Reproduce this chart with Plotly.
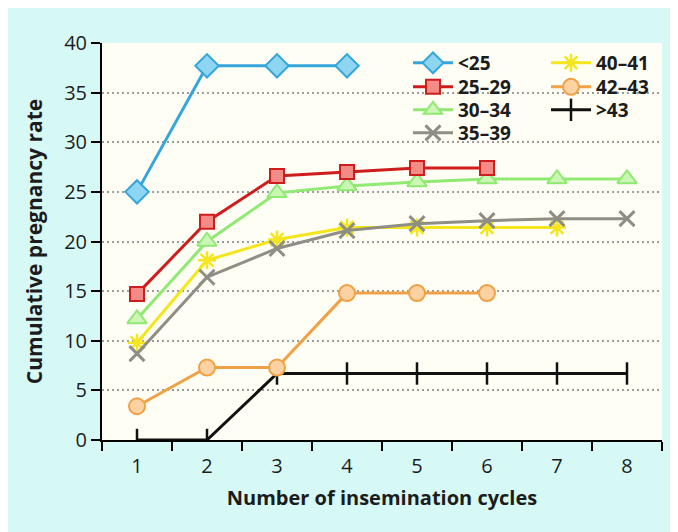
import plotly.graph_objects as go

cycles = ["1", "2", "3", "4", "5", "6", "7", "8"]
y_ticks = [0, 5, 10, 15, 20, 25, 30, 35, 40]

age_lt25 = [25.0, 37.7, 37.7, 37.7]
age_25_29 = [14.7, 22.0, 26.6, 27.0, 27.4, 27.4]
age_30_34 = [12.2, 20.0, 24.9, 25.6, 26.0, 26.3, 26.3, 26.3]
age_35_39 = [8.7, 16.4, 19.3, 21.1, 21.8, 22.1, 22.3, 22.3]
age_40_41 = [9.8, 18.1, 20.2, 21.4, 21.4, 21.4, 21.4]
age_42_43 = [3.4, 7.3, 7.3, 14.8, 14.8, 14.8]
age_gt43 = [0, 0, 6.7, 6.7, 6.7, 6.7, 6.7, 6.7]

# page offset caused by the default body margin
OFF = 8
# plot-area geometry in figure pixels
L, R, T, B = 102 - OFF, 662 - OFF, 43 - OFF, 440 - OFF
W, H = R - L, B - T


def px_x(px):
    return (px - OFF - L) / W


def px_y(py):
    return (B - (py - OFF)) / H


FONT = "Open Sans"
TXT = "#1c1c1c"

series = [
    # name, values, line color, marker symbol, marker fill, marker size, marker line width, legend col, legend row
    (">43", age_gt43, "#111111", "line-ns", "#111111", 16, 2.5, 1, 2),
    ("40–41", age_40_41, "#f5e51c", "asterisk", "#f5e51c", 15, 2.5, 1, 0),
    ("35–39", age_35_39, "#8e8e84", "x-thin", "#8e8e84", 15, 3, 0, 3),
    ("42–43", age_42_43, "#f0a145", "circle", "#fcd2a2", 16, 2, 1, 1),
    ("30–34", age_30_34, "#8fe972", "triangle-up", "#cbf6b6", 17, 2, 0, 2),
    ("25–29", age_25_29, "#cf1d1d", "square", "#f38b86", 14, 2, 0, 1),
    ("<25", age_lt25, "#35a6da", "diamond", "#8ed5f2", 18, 2, 0, 0),
]

# legend text start (page px) per column, row centres (page px)
col_text_x = [458, 596]
row_y = [63, 87, 110, 133]

fig = go.Figure()
layout_legends = {}
for i, (name, vals, lc, sym, fill, msize, mlw, col, row) in enumerate(series):
    lname = "legend" if i == 0 else f"legend{i + 1}"
    fig.add_trace(go.Scatter(
        x=cycles[:len(vals)], y=vals, name=name, mode="lines+markers",
        line=dict(color=lc, width=3),
        marker=dict(symbol=sym, size=msize, color=fill,
                    line=dict(color=lc, width=mlw)),
        legend=lname,
        showlegend=True,
    ))
    layout_legends[lname] = dict(
        x=px_x(col_text_x[col] - 50), xanchor="left",
        y=px_y(row_y[row]), yanchor="middle",
        bgcolor="rgba(0,0,0,0)", borderwidth=0,
        itemwidth=40,
        font=dict(family=FONT, size=19, color=TXT, weight="bold"),
    )

fig.update_layout(
    width=678, height=532,
    margin=dict(l=L, r=678 - R, t=T, b=532 - B),
    paper_bgcolor="#d7f9f5",
    plot_bgcolor="#fefef4",
    font=dict(family=FONT, color=TXT),
    showlegend=True,
    **layout_legends,
)

fig.update_xaxes(
    type="category", categoryorder="array", categoryarray=cycles,
    range=[-0.5, 7.5], tickson="boundaries",
    ticks="outside", ticklen=9, tickwidth=2, tickcolor="black",
    showline=True, linewidth=2, linecolor="black", showgrid=False,
    tickfont=dict(family=FONT, size=20, color=TXT),
    ticklabelstandoff=7,
    title=dict(text="Number of insemination cycles",
               font=dict(family=FONT, size=20, color=TXT, weight="bold"),
               standoff=13),
    automargin=False,
)
fig.update_yaxes(
    range=[0, 40], tickvals=y_ticks,
    ticks="outside", ticklen=9, tickwidth=2, tickcolor="black",
    showline=True, linewidth=2, linecolor="black",
    showgrid=True, gridcolor="#9c9c9c", gridwidth=2, griddash="2px,3px",
    zeroline=False,
    tickfont=dict(family=FONT, size=20, color=TXT),
    title=dict(text="Cumulative pregnancy rate",
               font=dict(family=FONT, size=21, color=TXT, weight="bold"),
               standoff=16),
    automargin=False,
)

fig.write_html("out.html")
